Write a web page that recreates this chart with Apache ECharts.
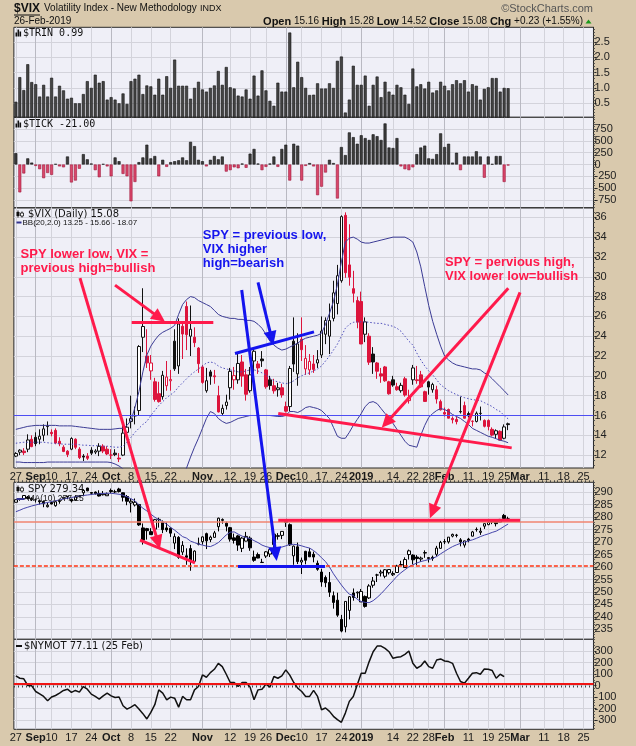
<!DOCTYPE html>
<html><head><meta charset="utf-8">
<script src="https://cdn.jsdelivr.net/npm/echarts@6/dist/echarts.min.js"></script>
<style>html,body{margin:0;padding:0;background:#d9c9ad;}#c{width:636px;height:746px;}</style>
</head><body><div id="c"></div>
<script>
// ---------------- DATA ----------------
const dates = ['2018-08-27','2018-08-28','2018-08-29','2018-08-30','2018-08-31',
'2018-09-04','2018-09-05','2018-09-06','2018-09-07','2018-09-10','2018-09-11','2018-09-12','2018-09-13','2018-09-14',
'2018-09-17','2018-09-18','2018-09-19','2018-09-20','2018-09-21','2018-09-24','2018-09-25','2018-09-26','2018-09-27','2018-09-28',
'2018-10-01','2018-10-02','2018-10-03','2018-10-04','2018-10-05','2018-10-08','2018-10-09','2018-10-10','2018-10-11','2018-10-12',
'2018-10-15','2018-10-16','2018-10-17','2018-10-18','2018-10-19','2018-10-22','2018-10-23','2018-10-24','2018-10-25','2018-10-26',
'2018-10-29','2018-10-30','2018-10-31','2018-11-01','2018-11-02','2018-11-05','2018-11-06','2018-11-07','2018-11-08','2018-11-09',
'2018-11-12','2018-11-13','2018-11-14','2018-11-15','2018-11-16','2018-11-19','2018-11-20','2018-11-21','2018-11-23',
'2018-11-26','2018-11-27','2018-11-28','2018-11-29','2018-11-30','2018-12-03','2018-12-04','2018-12-06','2018-12-07',
'2018-12-10','2018-12-11','2018-12-12','2018-12-13','2018-12-14','2018-12-17','2018-12-18','2018-12-19','2018-12-20','2018-12-21',
'2018-12-24','2018-12-26','2018-12-27','2018-12-28','2018-12-31','2019-01-02','2019-01-03','2019-01-04',
'2019-01-07','2019-01-08','2019-01-09','2019-01-10','2019-01-11','2019-01-14','2019-01-15','2019-01-16','2019-01-17','2019-01-18',
'2019-01-22','2019-01-23','2019-01-24','2019-01-25','2019-01-28','2019-01-29','2019-01-30','2019-01-31','2019-02-01',
'2019-02-04','2019-02-05','2019-02-06','2019-02-07','2019-02-08','2019-02-11','2019-02-12','2019-02-13','2019-02-14','2019-02-15',
'2019-02-19','2019-02-20','2019-02-21','2019-02-22','2019-02-25','2019-02-26','2019-02-27','2019-02-28','2019-03-01',
'2019-03-04','2019-03-05','2019-03-06','2019-03-07','2019-03-08','2019-03-11','2019-03-12','2019-03-13','2019-03-14','2019-03-15',
'2019-03-18','2019-03-19','2019-03-20','2019-03-21','2019-03-22','2019-03-25','2019-03-26','2019-03-27'];

const dateTickDates = ['2018-08-27','2018-09-04','2018-09-10','2018-09-17','2018-09-24','2018-10-01','2018-10-08','2018-10-15','2018-10-22',
'2018-11-01','2018-11-12','2018-11-19','2018-11-26','2018-12-03','2018-12-10','2018-12-17','2018-12-24','2019-01-02','2019-01-14',
'2019-01-22','2019-01-28','2019-02-01','2019-02-11','2019-02-19','2019-02-25','2019-03-01','2019-03-11','2019-03-18','2019-03-25'];
const dateTickText = ['27','Sep','10','17','24','Oct','8','15','22','Nov','12','19','26','Dec','10','17','24','2019','14','22','28','Feb','11','19','25','Mar','11','18','25'];
const monthTickDates = ['2018-09-04','2018-10-01','2018-11-01','2018-12-03','2019-01-02','2019-02-01','2019-03-01'];

const trin = [0.55,1.35,0.93,1.77,1.19,1.12,0.72,1.1,0.72,1.33,
 0.72,1.07,0.92,0.65,0.68,0.5,0.5,0.8,1.22,1.0,
 1.43,1.17,1.22,0.62,0.7,0.62,0.5,0.82,0.48,1.22,
 1.3,1.43,0.8,1.08,1.05,0.78,1.3,0.78,1.38,1.0,
 1.92,1.07,1.07,1.07,0.65,1.0,1.2,0.95,0.88,1.0,
 1.08,1.55,1.1,1.68,1.02,0.98,0.75,0.72,0.95,0.65,
 1.4,0.75,1.57,0.92,0.58,0.42,1.17,0.88,0.88,2.8,
 1.02,1.85,1.35,1.0,0.77,0.78,1.15,0.98,0.98,1.15,
 1.0,1.88,2.02,0.2,0.62,1.72,1.1,1.1,1.4,0.42,
 1.1,1.37,0.7,1.2,0.88,0.78,1.1,1.02,0.78,0.48,
 1.63,1.05,1.12,0.98,1.2,0.85,0.92,1.2,1.07,0.92,
 1.12,1.25,1.15,1.25,0.88,1.12,1.07,0.62,0.97,1.02,
 1.32,1.32,0.88,1.0,0.99];

const tick = [240,-590,-190,130,40,-30,-100,-290,-180,-220,
 10,-40,-60,170,-380,-340,-90,220,110,20,
 -120,-270,10,-40,-250,150,70,-200,-250,-780,
 -370,50,150,420,130,180,-250,100,-50,50,
 70,90,150,90,480,390,100,70,-40,100,
 180,110,170,-150,-120,-60,-80,20,-70,230,
 330,20,-120,-50,20,170,-50,330,420,-340,
 440,400,-340,-30,30,-40,-650,-470,-170,100,
 30,-720,370,200,680,580,440,620,560,520,
 640,600,520,870,360,350,560,-40,-100,-120,
 -60,220,360,400,130,120,220,660,370,440,
 40,250,-120,170,170,170,280,170,-280,170,
 10,180,180,-370,-21];

const vixOpen = [11.9,12.3,12.4,12.6,13.6,13.8,13.6,14.0,14.9,14.3,14.5,13.4,12.8,12.4,12.6,13.6,12.6,11.9,11.9,12.5,
 12.3,12.4,12.9,12.6,12.0,12.2,11.7,12.0,14.3,15.4,16.0,16.5,23.9,22.0,20.5,19.4,18.2,17.9,19.0,19.5,
 23.5,21.0,25.0,27.0,24.0,23.9,22.8,20.9,18.5,20.4,20.0,18.0,16.2,17.0,18.8,19.6,19.6,21.4,20.1,18.5,
 21.5,21.2,21.7,20.6,19.6,19.0,18.6,18.8,16.9,16.9,23.5,20.2,23.7,20.7,20.6,21.2,21.3,22.1,24.2,24.0,
 25.8,27.3,29.6,36.2,31.2,28.8,27.6,27.5,24.2,24.0,22.2,21.3,20.2,20.9,19.4,19.6,18.9,18.5,19.7,17.5,
 19.6,19.6,20.1,18.4,19.4,18.6,18.6,17.4,16.3,16.6,15.7,15.6,16.4,17.0,16.2,15.4,15.4,16.2,15.5,15.5,
 14.6,14.1,14.4,13.7,15.16];
const vixHigh = [12.3,12.6,12.7,14.1,14.0,14.3,14.6,15.1,15.4,14.6,14.7,13.8,13.0,12.5,13.8,13.7,12.8,12.1,12.2,12.8,
 12.6,13.2,13.1,12.9,12.6,12.6,12.2,15.0,15.7,18.0,16.9,23.1,28.84,24.7,22.1,19.8,19.4,20.5,21.5,20.6,
 24.7,25.8,25.5,27.5,27.1,24.9,22.9,21.1,20.8,20.6,20.6,19.0,17.1,18.1,20.8,20.9,22.3,22.1,20.7,20.9,
 22.8,21.5,22.5,20.7,20.0,19.7,19.3,19.2,17.4,21.0,25.9,24.3,25.9,23.1,22.2,22.1,22.6,26.0,25.9,27.3,
 29.6,31.2,36.2,36.5,35.3,30.6,28.0,28.5,25.9,24.3,22.9,21.4,20.8,21.0,19.5,20.0,19.3,19.3,19.9,18.6,
 21.1,21.0,20.5,18.5,19.5,19.3,19.0,17.6,16.8,16.7,15.9,15.9,17.9,17.4,16.4,15.5,16.4,16.9,15.6,15.6,
 14.8,14.6,14.5,15.1,15.28];
const vixLow = [11.8,12.0,12.0,12.3,12.8,12.9,13.1,13.4,14.0,13.9,13.1,12.9,12.3,11.8,12.5,12.6,11.6,11.4,11.5,12.0,
 12.1,11.9,12.2,12.0,11.6,11.9,11.3,11.9,13.6,14.7,15.1,16.0,22.4,20.8,19.6,17.4,17.3,17.6,18.5,18.5,
 20.5,20.2,21.7,22.6,22.0,22.9,20.3,19.2,18.3,19.1,19.2,16.3,16.0,16.6,17.6,18.6,19.2,18.9,17.5,18.3,
 20.2,20.2,20.9,18.7,18.6,18.2,17.9,17.8,16.3,16.4,20.4,19.0,21.5,20.1,20.1,20.3,20.8,21.8,23.2,22.2,
 25.5,26.2,29.4,29.9,29.1,27.4,24.8,23.2,23.4,21.1,20.2,19.7,19.3,19.4,18.1,18.9,18.5,18.3,17.9,17.2,
 19.1,19.2,18.8,17.4,18.1,18.3,17.2,16.5,15.9,15.7,15.2,15.1,16.2,15.7,15.8,14.9,15.3,15.5,14.8,14.5,
 13.9,13.7,13.5,13.6,14.52];
const vixClose = [12.16,12.50,12.25,13.53,12.86,13.16,13.91,14.65,14.88,14.16,13.22,13.14,12.37,12.07,13.68,12.79,11.75,11.80,11.68,12.20,
 12.42,12.89,12.41,12.12,12.00,12.05,11.61,14.22,14.82,15.69,15.95,22.96,24.98,21.31,21.30,17.62,17.40,20.06,19.89,19.64,
 20.71,25.23,24.22,24.16,24.70,23.35,21.23,19.34,19.51,19.96,19.91,16.36,16.72,17.36,20.45,20.02,21.25,19.98,18.14,20.10,
 22.48,20.80,21.52,18.90,19.02,18.49,18.79,18.07,16.44,20.74,21.19,23.23,22.64,21.76,21.46,20.65,21.63,24.52,25.58,25.58,
 28.38,30.11,36.07,30.41,29.96,28.34,25.42,23.22,25.45,21.38,21.40,20.47,19.98,19.50,18.19,19.07,18.60,19.04,18.06,17.80,
 20.80,19.52,18.89,17.42,18.87,19.13,17.66,16.57,16.14,15.73,15.57,15.38,16.37,15.72,15.97,15.43,16.22,16.22,14.91,14.88,
 14.02,14.46,13.51,14.85,15.08];

const bbUpper = [14.6,14.7,14.8,14.9,14.95,15.0,15.0,15.0,15.0,15.0,15.0,14.95,14.95,14.95,
 14.95,14.9,14.85,14.8,14.75,14.7,14.65,14.6,14.6,14.6,14.6,14.65,14.7,14.7,15.0,
 15.5,16.8,18.4,20.4,22.1,23.0,23.6,24.1,24.4,24.6,
 24.8,25.1,26.2,27.2,27.7,28.0,27.9,27.6,27.4,27.2,
 27.0,26.6,26.2,26.0,25.9,25.8,25.8,25.7,25.7,25.6,
 25.6,25.5,25.2,24.8,24.2,23.5,23.1,22.8,22.6,22.7,
 22.9,23.1,23.3,23.6,23.8,23.9,24.0,24.1,24.3,25.2,
 26.3,27.5,29.2,31.5,33.5,33.9,34.0,33.8,33.5,33.4,
 33.4,33.5,33.6,33.7,33.8,33.9,34.0,34.0,34.0,34.0,
 33.8,33.5,32.5,31.0,29.0,27.1,25.5,24.2,23.0,22.0,
 21.6,21.3,21.1,21.0,20.9,20.8,20.7,20.7,20.6,20.3,
 20.1,19.7,19.3,18.9,18.5,18.07];
const bbMid = [13.2,13.25,13.3,13.3,13.3,13.3,13.3,13.3,13.25,13.2,13.2,13.15,13.1,13.1,13.1,13.1,13.05,13.0,13.0,12.95,
 12.95,12.95,12.9,12.9,12.85,12.8,12.8,12.9,13.3,
 13.8,14.3,14.7,15.1,15.4,16.0,16.5,17.0,17.4,17.8,
 18.1,18.4,18.9,19.3,19.7,20.1,20.4,20.7,21.0,21.3,
 21.4,21.3,21.0,20.8,20.7,20.6,20.5,20.4,20.4,20.5,
 20.6,20.6,20.5,20.3,20.1,19.8,19.5,19.4,19.3,19.2,
 19.3,19.5,19.8,20.0,20.2,20.3,20.5,20.7,21.0,21.5,
 22.0,22.6,23.2,24.0,24.8,25.2,25.4,25.45,25.45,25.45,
 25.4,25.35,25.3,25.3,25.2,25.1,25.0,24.8,24.5,24.0,
 23.5,23.1,22.3,21.6,21.0,20.5,20.1,19.6,19.1,18.8,
 18.5,18.3,18.1,17.95,17.8,17.7,17.6,17.55,17.5,17.3,
 17.1,16.9,16.6,16.4,16.0,15.66];
const bbLower = [11.3,11.3,11.25,11.25,11.25,11.25,11.25,11.25,11.3,11.3,11.3,11.3,11.3,11.3,11.3,11.3,11.3,11.3,11.3,11.3,
 11.3,11.3,11.3,11.3,11.25,11.1,10.9,
 10.6,10.3,9.8,
 9.0,8.0,7.2,6.8,6.7,6.8,7.0,7.4,7.8,8.3,
 8.8,9.4,10.0,10.7,11.8,12.8,13.7,14.7,15.7,16.4,
 16.2,15.7,15.4,15.2,15.3,15.5,15.7,15.8,15.9,16.0,
 16.0,16.0,16.0,16.0,16.0,15.95,15.9,15.9,16.0,16.4,
 16.4,16.3,16.5,16.8,16.9,16.8,16.7,16.5,16.1,15.7,
 14.8,13.9,13.7,13.7,14.3,15.0,15.6,16.2,16.9,17.3,
 17.4,17.2,16.7,16.2,15.7,15.2,14.6,14.0,13.4,13.0,
 12.9,12.8,14.0,15.0,15.8,16.2,16.5,16.7,16.6,16.4,
 16.1,15.9,15.7,15.4,15.1,14.7,14.5,14.3,14.1,13.9,
 13.8,13.65,13.5,13.4,13.25];

const spyOpen = [286.0,287.5,287.4,288.1,287.0,287.0,286.6,286.3,284.2,285.9,284.6,286.3,287.5,288.3,287.2,286.8,288.3,289.8,291.7,289.9,
 290.1,289.5,289.0,288.6,290.7,290.2,291.3,289.8,288.3,285.7,284.9,285.1,275.7,275.4,274.2,275.2,279.1,278.0,275.7,275.6,
 269.6,271.9,266.0,264.5,267.4,262.3,269.3,270.2,273.4,271.0,271.9,276.2,278.7,277.6,275.8,271.7,272.5,267.5,270.4,271.6,
 264.0,265.0,261.8,264.4,265.2,269.0,272.3,272.7,278.9,277.0,264.5,268.1,262.0,266.3,266.1,265.1,261.5,258.0,255.8,253.8,
 248.5,246.7,239.0,236.0,242.6,249.6,249.6,246.0,248.2,247.6,252.7,256.8,257.6,256.3,257.7,256.9,257.8,260.8,259.8,265.0,
 264.8,264.0,263.2,265.6,263.4,263.9,265.1,267.5,270.2,270.1,272.4,272.8,270.9,268.8,271.2,272.4,275.1,273.9,276.4,277.0,
 278.0,278.2,278.0,280.7,279.3];
const spyHigh = [287.1,287.6,288.9,288.5,288.0,287.4,286.8,286.7,285.9,286.2,286.7,287.0,288.2,288.5,287.4,288.8,288.9,291.1,291.8,290.1,
 290.3,290.8,290.5,289.9,291.5,291.0,291.8,289.9,288.9,287.3,287.5,285.2,277.5,275.7,275.6,279.3,279.8,278.7,277.9,276.0,
 273.5,272.4,270.4,267.5,268.9,266.7,271.8,272.3,273.8,272.6,274.5,279.8,279.5,278.2,276.1,273.4,272.9,272.0,274.1,272.3,
 266.6,265.8,263.3,266.4,267.3,273.2,273.6,274.3,279.0,277.5,268.6,269.8,263.8,266.5,267.6,266.2,262.6,259.3,256.6,258.0,
 250.2,249.7,240.8,246.2,248.3,251.4,250.2,251.2,248.6,253.1,256.0,257.3,258.9,259.2,259.0,258.3,260.9,262.5,263.9,267.0,
 265.1,264.8,264.2,266.7,263.8,264.6,268.5,270.5,271.2,272.0,273.4,273.3,271.6,270.6,271.7,274.5,275.9,275.8,277.4,278.4,
 278.9,278.5,279.3,281.3,280.2];
const spyLow = [285.9,286.6,287.1,287.1,286.5,285.9,285.1,284.0,283.9,285.1,284.2,285.4,287.2,287.2,285.9,286.7,288.0,288.4,290.4,289.0,
 289.1,288.3,288.7,288.6,289.6,289.7,289.9,286.3,284.8,281.9,284.3,276.5,269.0,271.0,272.9,274.6,275.8,273.6,274.1,272.1,
 267.2,263.3,264.8,260.9,258.5,261.7,268.7,269.0,267.2,270.0,271.8,274.3,277.4,274.3,270.2,269.4,266.5,266.0,270.3,266.5,
 262.1,263.5,261.7,263.6,264.0,267.2,271.0,271.2,276.1,268.5,260.9,261.2,257.2,261.1,264.0,261.9,258.5,252.1,251.9,248.0,
 243.3,240.0,233.8,233.8,239.0,246.5,247.5,246.0,243.7,247.2,251.7,254.0,256.2,255.5,257.0,256.4,257.8,260.7,259.8,263.0,
 261.1,260.7,262.1,263.7,261.8,262.5,264.3,267.3,269.2,269.4,271.9,271.9,268.3,267.8,269.9,272.3,274.2,272.9,275.3,276.8,
 277.2,276.3,277.9,279.4,278.9];
const spyClose = [287.0,287.1,288.7,287.5,287.5,287.0,286.2,285.4,284.8,285.3,286.2,286.3,288.0,288.1,286.5,288.1,288.6,290.7,290.6,289.6,
 289.4,288.5,289.3,289.3,290.3,290.2,290.3,288.0,286.4,286.4,286.0,276.9,270.8,274.6,273.0,279.0,279.1,275.0,274.9,273.6,
 272.2,263.9,268.7,263.9,262.5,266.4,269.2,272.1,270.5,272.0,273.7,279.6,279.1,276.4,271.2,270.7,268.8,271.6,272.3,267.7,
 262.7,263.6,261.9,266.1,267.0,273.2,272.6,274.3,277.9,268.9,268.4,262.2,262.7,262.7,264.1,264.0,259.1,254.0,253.7,249.9,
 245.8,240.7,234.3,246.2,248.1,247.8,249.9,250.2,244.2,252.4,254.4,256.8,258.0,258.9,259.0,257.4,260.4,261.0,263.0,266.5,
 262.9,263.4,263.6,265.8,263.8,263.4,267.6,269.9,270.1,272.0,273.1,272.7,270.1,270.5,270.6,274.1,275.0,274.4,277.4,277.9,
 278.4,277.4,279.1,279.5,279.3];
const spyMA10 = [282.2,282.8,283.5,284.0,284.5,284.9,285.3,285.6,285.9,286.3,
 286.6,286.9,287.3,287.6,287.9,288.2,288.5,288.7,288.9,289.1,
 289.3,289.4,289.5,289.6,289.6,289.4,289.2,288.8,288.2,287.4,
 286.6,285.0,283.6,282.5,281.2,280.0,279.0,278.2,277.2,275.9,
 274.8,273.5,272.2,271.6,270.4,269.8,269.2,268.8,268.4,268.2,
 268.9,269.8,271.3,272.9,274.0,274.1,273.2,272.4,271.8,271.4,
 270.6,269.8,268.8,268.2,267.8,267.5,267.6,268.0,268.5,269.1,
 269.1,268.9,268.5,268.0,267.6,266.6,265.3,263.7,262.2,260.0,
 257.3,255.0,252.8,250.8,249.1,248.6,247.0,246.2,245.8,245.7,
 246.5,247.8,249.3,251.0,252.8,254.5,256.3,257.7,258.9,260.1,
 260.9,261.6,262.2,262.6,263.0,263.5,264.2,265.3,266.3,267.3,
 268.2,268.9,269.5,270.0,270.5,270.9,271.5,272.2,272.8,273.3,
 273.9,274.4,275.3,276.3,277.25];

const nymot = [84,63,58,0,-3,-52,-72,-95,-133,-100,
 -87,-66,-43,-32,-60,-43,-58,-9,-32,-75,
 -95,-118,-90,-66,-90,-104,-100,-176,-205,-188,
 -167,-205,-245,-291,-234,-167,-38,-66,-124,-101,
 -110,-188,-95,-124,-124,-38,-9,92,72,112,
 141,193,164,98,26,26,-9,26,26,-14,
 -124,-38,-32,12,-14,78,63,84,136,90,
 26,-23,-52,-95,-95,-43,-95,-211,-196,-225,
 -268,-297,-320,-240,-138,-95,6,107,107,208,
 294,343,343,323,294,237,245,251,271,300,
 193,150,170,213,164,150,222,231,213,208,
 193,107,35,20,63,107,112,98,144,141,
 130,63,98,77];

// reference levels
const vixLevel = 16;
const spyPrevHigh = 278.2;
const spyPrevLow = 260.4;
const nymotLevel = 15;

// y-axis tick labels
const trinTicks = [0.5,1.0,1.5,2.0,2.5];
const tickTicks = [-750,-500,-250,0,250,500,750];
const vixTicks = [12,14,16,18,20,22,24,26,28,30,32,34,36];
const spyTicks = [235,240,245,250,255,260,265,270,275,280,285,290];
const nymotTicks = [-300,-200,-100,0,100,200,300];

// ---------------- CHART ----------------
const FONT = '"Liberation Sans", Arial, sans-serif';
const chart = echarts.init(document.getElementById('c'), null, {renderer:'canvas', width:636, height:746});

const labelMap = {};
dateTickDates.forEach((d,k)=>{ labelMap[d] = dateTickText[k]; });
const monthSet = new Set(monthTickDates);

const panels = [
  {top:27.3, bottom:117.3, min:0.045, max:2.97, ticks:trinTicks, minorStep:0.1, fmt:v=>v.toFixed(1)},
  {top:117.3, bottom:207.7, min:-915, max:1000, ticks:tickTicks, minorStep:50, fmt:v=>String(v)},
  {top:208, bottom:468, min:10.7, max:36.94, ticks:vixTicks, minorStep:0.5, fmt:v=>String(v)},
  {top:482.3, bottom:639.3, min:231, max:294, ticks:spyTicks, minorStep:1, fmt:v=>String(v)},
  {top:639.3, bottom:729.3, min:-381, max:402, ticks:nymotTicks, minorStep:25, fmt:v=>String(v)}
];
const GL = 13.87, GW = 579.6;

const grid = panels.map(p=>({left:GL, width:GW, top:p.top, height:p.bottom-p.top, show:true,
  backgroundColor:'#efeff7', borderColor:'#2a2a2a', borderWidth:1}));

const richLab = {
  m:{fontWeight:'bold', fontSize:11, fontFamily:FONT, color:'#1a1a1a'},
  n:{fontSize:11, fontFamily:FONT, color:'#1a1a1a'}
};
function bottomAxis(g){
  const showLab = (g===2 || g===4);
  return {type:'category', gridIndex:g, data:dates, boundaryGap:true, position:'bottom',
    axisLine:{show:false},
    axisTick:{show:g===4, interval:0, length:2, lineStyle:{color:'#444'}},
    axisLabel:{show:showLab, interval:(i,v)=>labelMap[v]!==undefined, margin:3,
      formatter:(v)=>{const t=labelMap[v]; if(t===undefined) return ''; return (monthSet.has(v)?'{m|':'{n|')+t+'}';},
      rich:richLab},
    splitLine:{show:true, alignWithLabel:true, interval:(i,v)=>labelMap[v]!==undefined && !monthSet.has(v),
      lineStyle:{color:'#d3d3db', width:1}}
  };
}
function topAxis(g){
  return {type:'category', gridIndex:g, data:dates, boundaryGap:true, position:'top',
    axisLine:{show:false},
    axisTick:{show:g===3, interval:0, length:2, lineStyle:{color:'#444'}},
    axisLabel:{show:false},
    splitLine:{show:true, alignWithLabel:true, interval:(i,v)=>monthSet.has(v),
      lineStyle:{color:'#b9b9c2', width:1}}
  };
}
const xAxis = [0,1,2,3,4].map(bottomAxis).concat([0,1,2,3,4].map(topAxis));
const yAxis = panels.map((p,g)=>({type:'value', gridIndex:g, position:'right', min:p.min, max:p.max,
  axisLine:{show:true, lineStyle:{color:'#2a2a2a'}},
  axisTick:{show:true, customValues:p.ticks, length:3, lineStyle:{color:'#2a2a2a'}},
  axisLabel:{show:true, customValues:p.ticks, formatter:p.fmt, margin:1, fontSize:11, fontFamily:FONT, color:'#222'},
  splitLine:{show:true, lineStyle:{color:'#d3d3db', width:1}}
}));
// minor tick marks along the right axis (decoration only)
panels.forEach((p,g)=>{
  const minor = [];
  const start = Math.ceil(p.min/p.minorStep);
  const end = Math.floor(p.max/p.minorStep);
  for (let k=start; k<=end; k++) minor.push(+(k*p.minorStep).toFixed(4));
  yAxis.push({type:'value', gridIndex:g, position:'right', min:p.min, max:p.max,
    axisLine:{show:false}, axisLabel:{show:false}, splitLine:{show:false},
    axisTick:{show:true, customValues:minor, length:1.5, lineStyle:{color:'#555'}}});
});

const tickData = tick.map(v=>({value:v, itemStyle: v>=0 ? {color:'#3d3d3d', borderColor:'#111'} : {color:'#d9466a', borderColor:'#a0173a'}}));

const vixData = vixOpen.map((o,i)=>{
  const c = vixClose[i];
  const prev = i>0 ? vixClose[i-1] : o;
  const col = c < prev ? '#dc143c' : '#111111';
  const fill = c > o ? '#ffffff' : col;
  return {value:[o, c, vixLow[i], vixHigh[i]], itemStyle:{color:fill, color0:fill, borderColor:col, borderColor0:col, borderWidth:1}};
});
const spyData = spyOpen.map((o,i)=>({value:[o, spyClose[i], spyLow[i], spyHigh[i]]}));

const option = {
  animation:false,
  backgroundColor:'#d9c9ad',
  grid, xAxis, yAxis,
  series:[
    {type:'bar', xAxisIndex:0, yAxisIndex:0, data:trin, barWidth:3, silent:true,
      itemStyle:{color:'#454545', borderColor:'#111', borderWidth:0.6}},
    {type:'bar', xAxisIndex:1, yAxisIndex:1, data:tickData, barWidth:3, silent:true,
      itemStyle:{borderWidth:0.6}},
    {type:'candlestick', xAxisIndex:2, yAxisIndex:2, data:vixData, barWidth:3, silent:true,
      markLine:{silent:true, symbol:['none','none'], label:{show:false},
        lineStyle:{color:'#4d4df2', width:1.2, type:'solid'}, data:[{yAxis:vixLevel}]}},
    {type:'line', xAxisIndex:2, yAxisIndex:2, data:bbUpper, symbol:'none', silent:true,
      lineStyle:{color:'#3b3b95', width:1}},
    {type:'line', xAxisIndex:2, yAxisIndex:2, data:bbMid, symbol:'none', silent:true,
      lineStyle:{color:'#4d4dbb', width:1, type:[1.5,2]}},
    {type:'line', xAxisIndex:2, yAxisIndex:2, data:bbLower, symbol:'none', silent:true,
      lineStyle:{color:'#3b3b95', width:1}},
    {type:'candlestick', xAxisIndex:3, yAxisIndex:3, data:spyData, barWidth:3, silent:true,
      itemStyle:{color:'#ffffff', color0:'#000000', borderColor:'#000000', borderColor0:'#000000', borderWidth:1},
      markLine:{silent:true, symbol:['none','none'], label:{show:false},
        data:[{yAxis:spyPrevHigh, lineStyle:{color:'#f0846f', width:1.5, type:'solid'}},
              {yAxis:spyPrevLow, lineStyle:{color:'#ff3312', width:1.6, type:[4,2]}}]}},
    {type:'line', xAxisIndex:3, yAxisIndex:3, data:spyMA10, symbol:'none', silent:true,
      lineStyle:{color:'#4444aa', width:1}},
    {type:'line', xAxisIndex:4, yAxisIndex:4, data:nymot, symbol:'none', silent:true,
      lineStyle:{color:'#111', width:1.5},
      markLine:{silent:true, symbol:['none','none'], label:{show:false},
        lineStyle:{color:'#f01414', width:2, type:'solid'}, data:[{yAxis:nymotLevel}]}}
  ]
};
chart.setOption(option);

// ---------------- ANNOTATIONS ----------------
const RED = '#ff1a4b', BLUE = '#1414ee';
const annoLines = [
  {c:RED,  a:[2,24.98,29.16], b:[2,37.57,25.45], arrow:true},
  {c:RED,  a:[2,29.18,25.39], b:[2,49.74,25.39]},
  {c:RED,  a:[2,16.16,29.87], b:[3,36.31,267.2], arrow:true},
  {c:RED,  a:[3,31.27,270.84], b:[3,45.13,261.7]},
  {c:BLUE, a:[2,61.0,29.43], b:[2,64.85,23.1], arrow:true},
  {c:BLUE, a:[2,55.2,22.26], b:[2,75.1,24.44]},
  {c:BLUE, a:[2,56.89,28.66], b:[3,65.7,262.4], arrow:true},
  {c:BLUE, a:[3,55.96,260.2], b:[3,77.87,260.2]},
  {c:RED,  a:[2,124.04,28.83], b:[2,92.15,14.75], arrow:true},
  {c:RED,  a:[2,66.1,16.2], b:[2,124.9,12.73]},
  {c:RED,  a:[2,127,28.42], b:[3,104.3,279.56], arrow:true},
  {c:RED,  a:[3,66.1,278.76], b:[3,127,278.76]}
];
const annoTexts = [
  {c:RED,  at:[2,1.2,32.3], text:'SPY lower low, VIX =\nprevious high=bullish'},
  {c:BLUE, at:[2,47.1,34.2], text:'SPY = previous low,\nVIX higher\nhigh=bearish'},
  {c:RED,  at:[2,108.1,31.45], text:'SPY = pervious high,\nVIX lower low=bullish'}
];

function px(g, i, v){
  const p0 = chart.convertToPixel({xAxisIndex:g, yAxisIndex:g}, [0, v]);
  const p1 = chart.convertToPixel({xAxisIndex:g, yAxisIndex:g}, [100, v]);
  return [p0[0] + (p1[0]-p0[0]) * i / 100, p0[1]];
}

const G = [];
annoLines.forEach(L=>{
  let [x1,y1] = px(...L.a), [x2,y2] = px(...L.b);
  if (L.arrow){
    const dx=x2-x1, dy=y2-y1, len=Math.hypot(dx,dy), ux=dx/len, uy=dy/len, nx=-uy, ny=ux;
    const HL=14, HW=6.5, bx=x2-ux*HL, by=y2-uy*HL;
    G.push({type:'polygon', z:101, silent:true, shape:{points:[[x2,y2],[bx+nx*HW,by+ny*HW],[bx-nx*HW,by-ny*HW]]}, style:{fill:L.c}});
    x2 = x2-ux*HL*0.6; y2 = y2-uy*HL*0.6;
  }
  G.push({type:'line', z:100, silent:true, shape:{x1,y1,x2,y2}, style:{stroke:L.c, lineWidth:3}});
});
annoTexts.forEach(T=>{
  const [x,y] = px(...T.at);
  G.push({type:'text', z:102, silent:true, x:x, y:y-7,
    style:{text:T.text, fill:T.c, font:'bold 13px "Liberation Sans", Arial, sans-serif', lineHeight:14, align:'left', verticalAlign:'top'}});
});

function txt(x,y,text,font,fill,align){
  return {type:'text', z:110, silent:true, x, y,
    style:{text, font, fill:fill||'#111', align:align||'left', verticalAlign:'middle'}};
}
const SANS = '"Liberation Sans", Arial, sans-serif';
const DJ = '"DejaVu Sans", sans-serif';
const MONO = '"DejaVu Sans Mono", monospace';
// header
G.push(txt(14, 8.5, '$VIX', 'bold 12px '+SANS, '#111'));
G.push({type:'line', z:110, silent:true, shape:{x1:14, y1:15, x2:40, y2:15}, style:{stroke:'#111', lineWidth:1}});
G.push(txt(44, 8.5, 'Volatility Index - New Methodology', '10px '+SANS, '#111'));
G.push(txt(200, 9, 'INDX', '9px '+SANS, '#111'));
G.push(txt(14, 21.5, '26-Feb-2019', '10px '+SANS, '#111'));
G.push(txt(593, 8.5, '©StockCharts.com', '11px '+SANS, '#555', 'right'));
G.push({type:'text', z:110, silent:true, x:583, y:21.5,
  style:{text:'{b|Open} 15.16 {b|High} 15.28 {b|Low} 14.52 {b|Close} 15.08 {b|Chg} +0.23 (+1.55%)',
    font:'10px '+SANS, fill:'#111', align:'right', verticalAlign:'middle',
    rich:{b:{font:'bold 11px '+SANS, fill:'#111'}}}});
G.push({type:'polygon', z:110, silent:true, shape:{points:[[585.5,23.5],[591.5,23.5],[588.5,19.5]]}, style:{fill:'#1a9a1a'}});

// panel legends
function barIcon(x,y){
  [[0,3,4],[2,0,7],[4,2,5]].forEach(b=>G.push({type:'rect', z:110, silent:true, shape:{x:x+b[0], y:y+b[1], width:1.6, height:b[2]}, style:{fill:'#111'}}));
}
function candleIcon(x,y){
  G.push({type:'line', z:110, silent:true, shape:{x1:x+1.5,y1:y,x2:x+1.5,y2:y+7}, style:{stroke:'#111',lineWidth:1}});
  G.push({type:'rect', z:110, silent:true, shape:{x:x,y:y+1.5,width:3,height:4}, style:{fill:'#111'}});
  G.push({type:'line', z:110, silent:true, shape:{x1:x+5.5,y1:y+1,x2:x+5.5,y2:y+7}, style:{stroke:'#111',lineWidth:1}});
  G.push({type:'rect', z:110, silent:true, shape:{x:x+4,y:y+2.5,width:3,height:3}, style:{fill:'#fff', stroke:'#111', lineWidth:0.8}});
}
barIcon(15.5, 29.5);
G.push(txt(23, 33, '$TRIN 0.99', '10px '+MONO, '#111'));
barIcon(15.5, 120.5);
G.push(txt(23, 124, '$TICK -21.00', '10px '+MONO, '#111'));
candleIcon(16.5, 210.5);
G.push(txt(28, 214.3, '$VIX (Daily) 15.08', '10px '+DJ, '#111'));
G.push({type:'line', z:110, silent:true, shape:{x1:16.5,y1:222.5,x2:21.5,y2:222.5}, style:{stroke:'#33338f',lineWidth:2}});
G.push(txt(22.5, 222.5, 'BB(20,2.0) 13.25 - 15.66 - 18.07', '8px '+SANS, '#111'));
candleIcon(16.5, 485.5);
G.push(txt(28, 489, 'SPY 279.34', '10px '+DJ, '#111'));
G.push({type:'line', z:110, silent:true, shape:{x1:16.5,y1:499,x2:24.5,y2:499}, style:{stroke:'#33338f',lineWidth:2}});
G.push(txt(27.5, 499, 'MA(10) 277.25', '8.5px '+SANS, '#111'));
G.push({type:'line', z:110, silent:true, shape:{x1:16,y1:646,x2:22,y2:646}, style:{stroke:'#111',lineWidth:2}});
G.push(txt(24, 646, '$NYMOT 77.11 (25 Feb)', '10px '+DJ, '#111'));

chart.setOption({graphic:{elements:G}});
</script>
</body></html>
